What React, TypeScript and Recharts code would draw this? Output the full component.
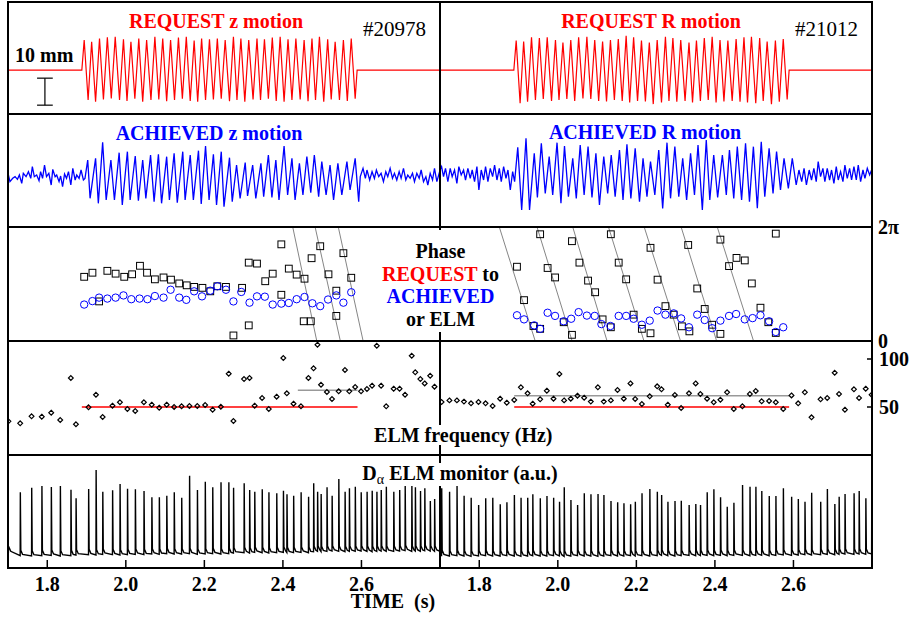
import React from 'react';
import { ComposedChart, Line, Scatter, XAxis, YAxis, ReferenceLine } from 'recharts';

const FONT = "'Liberation Serif', 'Times New Roman', Times, serif";

// ---- time axis ----
const T_DOMAIN: [number, number] = [1.7, 2.8];
const TIME_TICKS = [1.8, 2.0, 2.2, 2.4, 2.6];

// ---- row 1: requested motion (mm) ----
const REQ_ON = 1.888;
const REQ_OFF = 2.589;
const reqTimes = [
  1.894, 1.904, 1.913, 1.923, 1.933, 1.943, 1.953, 1.963, 1.973, 1.984, 1.994, 2.003, 2.013, 2.023,
  2.033, 2.043, 2.053, 2.064, 2.074, 2.084, 2.094, 2.104, 2.114, 2.124, 2.134, 2.144, 2.154, 2.164,
  2.174, 2.183, 2.193, 2.203, 2.213, 2.223, 2.233, 2.243, 2.253, 2.264, 2.274, 2.283, 2.293, 2.303,
  2.313, 2.324, 2.334, 2.343, 2.353, 2.363, 2.373, 2.383, 2.393, 2.403, 2.413, 2.423, 2.433, 2.444,
  2.454, 2.464, 2.474, 2.483, 2.493, 2.504, 2.514, 2.523, 2.533, 2.544, 2.554, 2.564, 2.574, 2.584,
];
const reqZ = [
  11.1, -11.1, 10.5, -11.7, 11.7, -10.9, 12.1, -10.5, 12.3, -11.1, 11.4, -11.4, 10.5, -10.6, 11.7, -11.7,
  11.1, -11.1, 12.3, -10.9, 11.7, -11.5, 11.1, -11.1, 12.0, -10.6, 12.3, -11.4, 10.9, -11.7, 11.7, -11.1,
  11.4, -10.9, 11.7, -10.6, 11.1, -11.5, 12.3, -11.1, 11.7, -11.7, 11.1, -10.9, 11.7, -11.1, 11.4, -10.6,
  12.0, -11.4, 12.3, -11.7, 11.4, -11.1, 11.7, -10.9, 11.1, -11.5, 11.7, -11.1, 12.3, -11.7, 11.4, -10.9,
  10.5, -11.1, 11.1, -11.4, 11.7, -10.6,
];
const reqR = [
  10.9, -12.3, 10.6, -11.7, 12.1, -11.1, 11.9, -10.7, 12.1, -11.4, 11.1, -11.1, 10.2, -10.7, 11.1, -11.4,
  12.1, -10.5, 12.3, -10.7, 11.1, -11.4, 10.6, -11.6, 11.1, -11.1, 11.5, -11.4, 12.7, -12.0, 12.1, -11.4,
  10.9, -11.6, 10.2, -12.6, 11.1, -12.0, 12.3, -11.4, 11.9, -11.7, 11.1, -11.4, 10.2, -12.0, 10.9, -11.4,
  11.9, -11.1, 12.3, -12.0, 11.1, -11.6, 10.9, -11.4, 11.5, -11.7, 12.1, -12.0, 12.3, -12.3, 11.9, -11.4,
  10.6, -12.6, 10.9, -11.7, 11.5, -10.9,
];
const SCALE_BAR = { t: 1.794, from: -3, to: -13, cap: 0.02 };

// ---- row 2: achieved motion (a.u.) [time, value] ----
const achievedZ: number[][] = [
  [1.701, 5], [1.705, -15], [1.712, -5], [1.718, 0], [1.724, -8], [1.729, 5], [1.735, -20], [1.739, 10],
  [1.746, 0], [1.752, 15], [1.758, -5], [1.762, 30], [1.767, 0], [1.773, 5], [1.779, -12], [1.783, 15],
  [1.788, -5], [1.793, 35], [1.798, 0], [1.804, 10], [1.81, -25], [1.814, 22], [1.82, 0], [1.824, 5],
  [1.83, -15], [1.834, 2], [1.839, -30], [1.844, 8], [1.849, -5], [1.854, 15], [1.86, -25], [1.865, 25],
  [1.871, -10], [1.875, 5], [1.881, -5], [1.886, 20], [1.892, -10], [1.896, -5],
  [1.903, 50], [1.909, -65], [1.923, 55], [1.93, -80], [1.941, 103], [1.95, -70], [1.962, 50], [1.971, -70],
  [1.983, 72], [1.991, -85], [2.004, 75], [2.011, -70], [2.024, 62], [2.032, -72], [2.043, 50], [2.051, -65],
  [2.063, 65], [2.072, -75], [2.083, 67], [2.091, -80], [2.104, 60], [2.111, -70], [2.123, 70], [2.131, -78],
  [2.145, 75], [2.151, -70], [2.164, 65], [2.172, -70], [2.185, 78], [2.192, -82], [2.203, 92], [2.212, -70],
  [2.223, 67], [2.231, -85], [2.243, 75], [2.25, -90], [2.264, 57], [2.271, -75], [2.282, 35], [2.291, -65],
  [2.304, 42], [2.31, -58], [2.323, 35], [2.331, -65], [2.344, 40], [2.351, -60], [2.363, 65], [2.372, -62],
  [2.382, 50], [2.39, -70], [2.403, 92], [2.412, -55], [2.423, 55], [2.431, -70], [2.442, 40], [2.451, -55],
  [2.461, 60], [2.471, -48], [2.48, 65], [2.491, -60], [2.499, 45], [2.51, -55], [2.52, 35], [2.529, -70],
  [2.54, 40], [2.55, -55], [2.563, 45], [2.571, -40], [2.584, 55], [2.593, -75],
  [2.597, 0], [2.604, 25], [2.61, -5], [2.614, 20], [2.621, -10], [2.627, 15], [2.633, -5], [2.638, 20],
  [2.644, 0], [2.65, 10], [2.656, -15], [2.662, 15], [2.667, 0], [2.673, 25], [2.679, -5], [2.684, 10],
  [2.69, -10], [2.696, 15], [2.701, -5], [2.707, 25], [2.713, -10], [2.718, 5], [2.724, -5], [2.73, 10],
  [2.735, -15], [2.741, 10], [2.747, -5], [2.752, 20], [2.758, -15], [2.764, 0], [2.769, -25], [2.775, 10],
  [2.781, -10], [2.786, 25], [2.792, -15], [2.799, 15],
];
const achievedR: number[][] = [
  [1.7, 10], [1.704, 20], [1.709, -10], [1.714, 15], [1.72, -25], [1.726, 15], [1.731, -10], [1.737, 10],
  [1.743, -30], [1.748, 20], [1.754, -5], [1.76, 10], [1.765, -20], [1.771, 15], [1.777, -15], [1.782, 10],
  [1.788, -25], [1.794, 20], [1.799, -50], [1.805, 10], [1.811, -20], [1.816, 20], [1.822, -25], [1.828, 15],
  [1.834, -10], [1.839, 25], [1.845, -20], [1.851, 15], [1.856, -25], [1.862, 20], [1.868, -15], [1.873, 10],
  [1.879, -50], [1.885, 5], [1.89, -25],
  [1.898, 78], [1.908, -110], [1.919, 105], [1.928, -110], [1.94, 60], [1.948, -72], [1.958, 90], [1.968, -60],
  [1.978, 50], [1.987, -65], [1.998, 92], [2.008, -90], [2.017, 82], [2.027, -70], [2.038, 45], [2.047, -75],
  [2.057, 85], [2.067, -65], [2.077, 80], [2.087, -72], [2.097, 60], [2.106, -95], [2.117, 50], [2.127, -60],
  [2.136, 55], [2.146, -70], [2.157, 70], [2.166, -80], [2.176, 87], [2.186, -75], [2.197, 75], [2.208, -85],
  [2.217, 45], [2.227, -70], [2.236, 35], [2.247, -65], [2.257, 70], [2.267, -105], [2.278, 92], [2.287, -75],
  [2.298, 80], [2.308, -70], [2.318, 45], [2.328, -80], [2.338, 60], [2.348, -65], [2.357, 85], [2.368, -110],
  [2.378, 100], [2.387, -80], [2.397, 55], [2.407, -72], [2.419, 55], [2.429, -65], [2.437, 70], [2.448, -75],
  [2.457, 80], [2.468, -80], [2.478, 90], [2.488, -85], [2.498, 80], [2.508, -105], [2.518, 95], [2.527, -70],
  [2.538, 75], [2.548, -60], [2.557, 65], [2.567, -50], [2.576, 45], [2.587, -45], [2.597, 45], [2.607, -35],
  [2.614, 10], [2.621, -25], [2.627, 15], [2.633, -35], [2.64, 10], [2.646, -20], [2.652, 15], [2.658, -25],
  [2.663, 35], [2.669, -10], [2.675, 15], [2.68, -25], [2.686, 15], [2.692, -20], [2.697, 10], [2.703, -30],
  [2.709, 20], [2.714, -20], [2.72, 5], [2.726, -25], [2.731, 25], [2.737, -15], [2.743, 15], [2.748, -20],
  [2.754, 20], [2.76, -20], [2.765, 25], [2.771, -25], [2.777, 10], [2.782, -15], [2.788, 15], [2.794, -5],
  [2.799, 10],
];

// ---- row 3: phase (degrees, 0..360 = 0..2pi) [time, phase] ----
const phaseElmL: number[][] = [
  [1.894, 202], [1.915, 215], [1.932, 124], [1.953, 221], [1.974, 212], [1.996, 202], [2.016, 210], [2.036, 237],
  [2.054, 215], [2.074, 194], [2.096, 200], [2.115, 193], [2.136, 181], [2.155, 175], [2.174, 170], [2.195, 167],
  [2.215, 156], [2.233, 172], [2.255, 170], [2.274, 16], [2.296, 167], [2.313, 247], [2.313, 48], [2.334, 244],
  [2.355, 188], [2.374, 212], [2.396, 305], [2.396, 145], [2.415, 228], [2.435, 209], [2.455, 196], [2.453, 61],
  [2.473, 261], [2.471, 61], [2.495, 299], [2.516, 210], [2.536, 158], [2.536, 78], [2.554, 277], [2.574, 199],
];
const phaseAchL: number[][] = [
  [1.894, 114], [1.915, 125], [1.932, 136], [1.953, 133], [1.974, 136], [1.994, 143], [2.014, 131], [2.035, 133],
  [2.055, 131], [2.074, 141], [2.096, 136], [2.114, 161], [2.136, 136], [2.154, 129], [2.174, 156], [2.194, 140],
  [2.215, 158], [2.233, 172], [2.255, 161], [2.274, 124], [2.294, 154], [2.315, 120], [2.334, 140], [2.354, 139],
  [2.374, 114], [2.396, 117], [2.415, 119], [2.435, 131], [2.455, 138], [2.475, 118], [2.495, 109], [2.515, 130],
  [2.536, 143], [2.554, 120], [2.574, 153],
];
const phaseElmR: number[][] = [
  [1.896, 234], [1.914, 128], [1.938, 46], [1.955, 337], [1.955, 37], [1.974, 230], [1.993, 200], [2.015, 58],
  [2.036, 315], [2.036, 18], [2.055, 247], [2.077, 190], [2.095, 153], [2.114, 67], [2.135, 337], [2.135, 42],
  [2.155, 247], [2.174, 194], [2.193, 82], [2.214, 37], [2.236, 294], [2.236, 23], [2.254, 193], [2.274, 109],
  [2.295, 82], [2.316, 45], [2.332, 303], [2.335, 29], [2.355, 165], [2.374, 100], [2.393, 50], [2.414, 320],
  [2.414, 21], [2.436, 236], [2.455, 262], [2.476, 254], [2.494, 181], [2.516, 104], [2.536, 58], [2.555, 339],
  [2.555, 24],
];
const phaseAchR: number[][] = [
  [1.896, 80], [1.914, 67], [1.94, 48], [1.955, 37], [1.974, 88], [1.993, 78], [2.015, 61], [2.034, 69],
  [2.053, 90], [2.074, 79], [2.094, 78], [2.111, 52], [2.134, 46], [2.155, 78], [2.174, 78], [2.193, 69],
  [2.214, 50], [2.234, 63], [2.254, 95], [2.274, 82], [2.295, 86], [2.314, 70], [2.334, 42], [2.355, 82],
  [2.374, 65], [2.393, 39], [2.414, 63], [2.436, 78], [2.454, 84], [2.476, 67], [2.496, 71], [2.516, 80],
  [2.538, 61], [2.555, 27], [2.574, 42],
];
// ELM phase drift lines: [time at 2pi, time at 0]
const driftL: number[][] = [[2.425, 2.486], [2.482, 2.546], [2.541, 2.604]];
const driftR: number[][] = [
  [1.851, 1.942], [1.947, 2.036], [2.038, 2.125], [2.129, 2.219], [2.22, 2.312], [2.314, 2.404], [2.406, 2.498],
];

// ---- row 4 / row 5: ELM events ----
const elmTimesL = [
  1.701, 1.731, 1.76, 1.786, 1.81, 1.833, 1.86, 1.873, 1.905, 1.924, 1.941, 1.966, 1.985, 2.004, 2.024, 2.046,
  2.066, 2.085, 2.104, 2.123, 2.142, 2.162, 2.182, 2.202, 2.221, 2.242, 2.262, 2.274, 2.301, 2.315, 2.328, 2.347,
  2.364, 2.384, 2.401, 2.41, 2.427, 2.446, 2.465, 2.478, 2.488, 2.497, 2.512, 2.525, 2.542, 2.558, 2.569, 2.584,
  2.599, 2.614, 2.627, 2.639, 2.65, 2.663, 2.682, 2.697, 2.711, 2.728, 2.737, 2.75, 2.761, 2.775, 2.786,
];
const elmFreqL = [
  35.1, 33.0, 40.3, 39.9, 44.1, 36.5, 80.2, 32.0, 49.7, 62.8, 39.6, 51.4, 54.9, 47.9, 45.8, 54.9,
  52.4, 49.3, 52.4, 50.0, 50.7, 51.0, 51.0, 52.1, 47.2, 50.3, 84.7, 35.4, 79.1, 80.2, 51.4, 59.4,
  47.9, 60.8, 101.0, 64.2, 53.5, 50.7, 80.2, 90.3, 114.9, 73.2, 65.6, 58.3, 66.3, 88.5, 66.3, 70.8,
  66.3, 68.7, 72.2, 113.8, 72.2, 50.7, 69.1, 69.1, 62.8, 103.4, 86.1, 79.1, 74.6, 82.6, 71.2,
];
const daPeakL = [
  0.6, 2.27, 2.41, 2.46, 2.43, 2.46, 2.35, 2.09, 2.37, 2.94, 2.29, 2.33, 2.52, 2.38, 2.36, 2.31,
  2.12, 2.12, 2.17, 2.27, 2.11, 2.77, 2.34, 2.59, 2.42, 2.57, 2.57, 2.41, 2.54, 2.34, 2.29, 2.36,
  2.27, 2.24, 2.32, 2.21, 2.17, 2.27, 2.14, 2.54, 2.29, 2.22, 2.42, 2.17, 2.67, 2.29, 2.39, 2.44,
  2.27, 2.29, 2.32, 2.29, 2.34, 2.44, 2.29, 2.34, 2.49, 2.47, 2.42, 2.31, 2.39, 2.01, 2.07,
];
const daBaseL = [
  0.46, 0.37, 0.36, 0.37, 0.38, 0.36, 0.37, 0.39, 0.4, 0.39, 0.41, 0.4, 0.39, 0.4, 0.41, 0.4,
  0.42, 0.41, 0.43, 0.42, 0.42, 0.43, 0.41, 0.42, 0.43, 0.42, 0.43, 0.45, 0.46, 0.45, 0.47, 0.46,
  0.45, 0.46, 0.47, 0.46, 0.46, 0.47, 0.46, 0.49, 0.5, 0.49, 0.5, 0.51, 0.5, 0.49, 0.5, 0.5,
  0.51, 0.5, 0.49, 0.5, 0.51, 0.5, 0.5, 0.51, 0.52, 0.5, 0.51, 0.5, 0.52, 0.51, 0.5,
];
const elmTimesR = [
  1.704, 1.724, 1.743, 1.761, 1.779, 1.798, 1.816, 1.834, 1.853, 1.87, 1.889, 1.906, 1.923, 1.936, 1.955, 1.972,
  1.989, 2.004, 2.016, 2.033, 2.05, 2.067, 2.084, 2.102, 2.117, 2.135, 2.152, 2.168, 2.185, 2.197, 2.214, 2.234,
  2.253, 2.264, 2.28, 2.298, 2.314, 2.334, 2.351, 2.363, 2.38, 2.397, 2.414, 2.431, 2.448, 2.47, 2.489, 2.504,
  2.519, 2.538, 2.555, 2.574, 2.595, 2.612, 2.629, 2.646, 2.669, 2.686, 2.705, 2.716, 2.731, 2.754, 2.767, 2.784,
  2.799,
];
const elmFreqR = [
  55.2, 56.9, 56.9, 55.6, 53.8, 55.2, 53.8, 51.0, 58.7, 54.5, 57.3, 70.5, 64.2, 53.5, 58.0, 67.0,
  58.7, 84.4, 56.9, 58.7, 61.8, 59.7, 55.6, 70.5, 55.6, 56.9, 67.7, 58.7, 74.6, 58.3, 53.1, 61.1,
  71.5, 68.4, 52.4, 62.5, 49.0, 64.2, 74.6, 63.5, 58.7, 54.9, 57.6, 65.3, 47.9, 50.7, 63.5, 66.7,
  55.9, 56.2, 54.9, 47.9, 62.1, 53.8, 65.3, 39.2, 58.0, 59.4, 85.7, 63.5, 47.2, 68.4, 59.4, 69.1,
  62.8,
];
const daPeakR = [
  2.39, 2.29, 2.46, 2.17, 2.11, 1.89, 2.09, 2.11, 1.91, 1.97, 2.19, 2.11, 2.11, 2.21, 2.09, 2.16,
  2.11, 1.99, 2.42, 2.04, 1.89, 2.24, 2.21, 2.22, 2.19, 2.01, 1.97, 1.94, 1.91, 1.99, 2.24, 2.37,
  2.29, 2.19, 1.99, 2.01, 2.02, 1.89, 1.92, 1.89, 2.27, 2.36, 2.12, 1.84, 1.96, 2.49, 2.44, 2.44,
  2.31, 2.16, 2.16, 2.39, 2.14, 2.07, 1.99, 2.26, 1.99, 2.37, 1.92, 2.14, 2.22, 2.24, 2.31, 2.09,
  2.21,
];
const daBaseR = [
  0.37, 0.36, 0.37, 0.36, 0.35, 0.36, 0.37, 0.36, 0.36, 0.37, 0.36, 0.35, 0.36, 0.37, 0.36, 0.36,
  0.37, 0.36, 0.35, 0.36, 0.37, 0.36, 0.36, 0.35, 0.36, 0.37, 0.36, 0.36, 0.37, 0.36, 0.37, 0.36,
  0.37, 0.38, 0.37, 0.36, 0.37, 0.38, 0.37, 0.37, 0.38, 0.37, 0.38, 0.37, 0.38, 0.38, 0.37, 0.38,
  0.38, 0.37, 0.38, 0.39, 0.38, 0.39, 0.4, 0.39, 0.4, 0.41, 0.4, 0.41, 0.42, 0.41, 0.42, 0.41,
  0.42,
];
// requested pacing (red) and mean observed (grey) frequency [t0, t1, Hz]
const pacingL = [1.888, 2.59, 50];
const meanL = [2.438, 2.59, 67.4];
const pacingR = [1.889, 2.589, 50];
const meanR = [1.889, 2.589, 61.8];

// ---- layout ----
const PAD = 14;
const PANEL_W = 432;
const X_LEFT = 8;
const X_MID = 440;
const ROWS = [
  { top: 2, h: 111, domain: [-15.9, 25.2] },
  { top: 114, h: 113, domain: [-151, 188] },
  { top: 227, h: 113.5, domain: [0, 360] },
  { top: 341, h: 114, domain: [0, 118.75] },
  { top: 455, h: 113, domain: [0, 3.39] },
];
const ACH_R_DOMAIN: [number, number] = [-161, 178];

const RED = '#ff0000';
const BLUE = '#0000ff';
const tickFont = { fill: '#000', fontSize: 20, fontWeight: 700, fontFamily: FONT };

// ---- builders ----
const pairs = (arr: number[][]) => arr.map(([t, v]) => ({ t, v }));

const reqSeries = (vals: number[]) => [
  { t: T_DOMAIN[0], v: 0 },
  { t: REQ_ON, v: 0 },
  ...reqTimes.map((t, i) => ({ t, v: vals[i] })),
  { t: REQ_OFF, v: 0 },
  { t: T_DOMAIN[1], v: 0 },
];

const daTrace = (times: number[], peaks: number[], bases: number[]) => {
  const out = [{ t: T_DOMAIN[0], v: bases[0] }];
  times.forEach((t, i) => {
    const b = bases[i];
    out.push({ t, v: b }, { t: t + 0.0004, v: peaks[i] }, { t: t + 0.0016, v: b + 0.16 }, { t: t + 0.006, v: b + 0.04 });
  });
  out.push({ t: T_DOMAIN[1], v: bases[bases.length - 1] });
  return out;
};

const freqPts = (times: number[], f: number[]) => times.map((t, i) => ({ t, v: f[i] }));
const hSeg = ([t0, t1, v]: number[]) => [{ t: t0, v }, { t: t1, v }];
const drift = ([a, b]: number[]) => [{ t: a, v: 360 }, { t: b, v: 0 }];

// ---- marker shapes ----
const Square = (p: any) => (
  <rect x={p.cx - 3.4} y={p.cy - 3.4} width={6.8} height={6.8} fill="none" stroke="#000" strokeWidth={1} />
);
const Ring = (p: any) => <circle cx={p.cx} cy={p.cy} r={3.7} fill="none" stroke={BLUE} strokeWidth={1} />;
const Diamond = (p: any) => (
  <path
    d={`M${p.cx},${p.cy - 2.4}L${p.cx + 2.4},${p.cy}L${p.cx},${p.cy + 2.4}L${p.cx - 2.4},${p.cy}Z`}
    fill="none"
    stroke="#000"
    strokeWidth={1.2}
  />
);

type Axis = 'none' | 'phase' | 'freq' | 'freqTicks';

function Panel({
  x, row, axis = 'none', bottom = false, domain, children,
}: { x: number; row: number; axis?: Axis; bottom?: boolean; domain?: [number, number]; children: React.ReactNode }) {
  const r = ROWS[row];
  const yDom = (domain || r.domain) as [number, number];
  const rightW = axis === 'phase' || axis === 'freq' ? 40 : 0;
  const bottomH = bottom ? 44 : 0;
  return (
    <div style={{ position: 'absolute', left: x, top: r.top - PAD }}>
      <ComposedChart
        width={PANEL_W + rightW}
        height={r.h + 2 * PAD + bottomH}
        margin={{ top: PAD, right: 0, bottom: PAD, left: 0 }}
      >
        <XAxis
          type="number"
          dataKey="t"
          domain={T_DOMAIN}
          allowDataOverflow
          hide={!bottom}
          height={bottomH}
          ticks={TIME_TICKS}
          interval={0}
          tickFormatter={(v: number) => v.toFixed(1)}
          tickSize={-8}
          tickMargin={17}
          axisLine={false}
          tickLine={{ stroke: '#000', strokeWidth: 1.5 }}
          tick={tickFont}
        />
        <YAxis
          type="number"
          dataKey="v"
          domain={yDom}
          allowDataOverflow
          hide={axis === 'none'}
          orientation="right"
          width={rightW}
          ticks={axis === 'phase' ? [0, 360] : [50, 100]}
          interval={0}
          tickFormatter={(v: number) => (axis === 'phase' ? (v === 0 ? '0' : '2π') : String(v))}
          tickSize={axis === 'phase' ? 5 : -5}
          tickMargin={axis === 'phase' ? 1 : 12}
          axisLine={false}
          tickLine={axis === 'phase' ? false : { stroke: '#000', strokeWidth: 1.5 }}
          tick={axis === 'freqTicks' ? false : tickFont}
        />
        {children}
      </ComposedChart>
    </div>
  );
}

function Label({
  x, base, size = 20, bold = true, color = '#000', center = true, bg = false, children,
}: { x: number; base: number; size?: number; bold?: boolean; color?: string; center?: boolean; bg?: boolean; children: React.ReactNode }) {
  return (
    <div
      style={{
        position: 'absolute',
        left: x,
        top: base - 0.8375 * size,
        transform: center ? 'translateX(-50%)' : undefined,
        fontSize: size,
        lineHeight: `${size}px`,
        fontWeight: bold ? 700 : 400,
        color,
        whiteSpace: 'pre',
        background: bg ? '#fff' : undefined,
        fontFamily: FONT,
      }}
    >
      {children}
    </div>
  );
}

const box = (left: number, top: number, width: number, height: number, bg = '#000') => (
  <div key={`${left}-${top}-${width}`} style={{ position: 'absolute', left, top, width, height, background: bg }} />
);

export default function App() {
  const hLines = [2, 113.5, 227, 340.5, 455, 568];
  return (
    <div style={{ position: 'absolute', left: 0, top: 0, width: 909, height: 618, background: '#fff', fontFamily: FONT }}>
      {/* row 1: request */}
      <Panel x={X_LEFT} row={0}>
        <Line data={reqSeries(reqZ)} dataKey="v" type="linear" stroke={RED} strokeWidth={1.2} dot={false} isAnimationActive={false} />
        <ReferenceLine segment={[{ x: SCALE_BAR.t, y: SCALE_BAR.from }, { x: SCALE_BAR.t, y: SCALE_BAR.to }]} stroke="#000" strokeWidth={1.2} ifOverflow="visible" />
        <ReferenceLine segment={[{ x: SCALE_BAR.t - SCALE_BAR.cap, y: SCALE_BAR.from }, { x: SCALE_BAR.t + SCALE_BAR.cap, y: SCALE_BAR.from }]} stroke="#000" strokeWidth={1.2} ifOverflow="visible" />
        <ReferenceLine segment={[{ x: SCALE_BAR.t - SCALE_BAR.cap, y: SCALE_BAR.to }, { x: SCALE_BAR.t + SCALE_BAR.cap, y: SCALE_BAR.to }]} stroke="#000" strokeWidth={1.2} ifOverflow="visible" />
      </Panel>
      <Panel x={X_MID} row={0}>
        <Line data={reqSeries(reqR)} dataKey="v" type="linear" stroke={RED} strokeWidth={1.2} dot={false} isAnimationActive={false} />
      </Panel>

      {/* row 2: achieved */}
      <Panel x={X_LEFT} row={1}>
        <Line data={pairs(achievedZ)} dataKey="v" type="linear" stroke={BLUE} strokeWidth={1.3} dot={false} isAnimationActive={false} />
      </Panel>
      <Panel x={X_MID} row={1} domain={ACH_R_DOMAIN}>
        <Line data={pairs(achievedR)} dataKey="v" type="linear" stroke={BLUE} strokeWidth={1.3} dot={false} isAnimationActive={false} />
      </Panel>

      {/* row 3: phase */}
      <Panel x={X_LEFT} row={2}>
        {driftL.map((d, i) => (
          <Line key={i} data={drift(d)} dataKey="v" type="linear" stroke="#666" strokeWidth={0.8} dot={false} isAnimationActive={false} />
        ))}
        <Scatter data={pairs(phaseElmL)} shape={Square} isAnimationActive={false} />
        <Scatter data={pairs(phaseAchL)} shape={Ring} isAnimationActive={false} />
      </Panel>
      <Panel x={X_MID} row={2} axis="phase">
        {driftR.map((d, i) => (
          <Line key={i} data={drift(d)} dataKey="v" type="linear" stroke="#666" strokeWidth={0.8} dot={false} isAnimationActive={false} />
        ))}
        <Scatter data={pairs(phaseElmR)} shape={Square} isAnimationActive={false} />
        <Scatter data={pairs(phaseAchR)} shape={Ring} isAnimationActive={false} />
      </Panel>

      {/* row 4: ELM frequency */}
      <Panel x={X_LEFT} row={3} axis="freqTicks">
        <Line data={hSeg(pacingL)} dataKey="v" stroke={RED} strokeWidth={1.5} dot={false} isAnimationActive={false} />
        <Line data={hSeg(meanL)} dataKey="v" stroke="#999" strokeWidth={1.5} dot={false} isAnimationActive={false} />
        <Scatter data={freqPts(elmTimesL, elmFreqL)} shape={Diamond} isAnimationActive={false} />
      </Panel>
      <Panel x={X_MID} row={3} axis="freq">
        <Line data={hSeg(pacingR)} dataKey="v" stroke={RED} strokeWidth={1.5} dot={false} isAnimationActive={false} />
        <Line data={hSeg(meanR)} dataKey="v" stroke="#999" strokeWidth={1.5} dot={false} isAnimationActive={false} />
        <Scatter data={freqPts(elmTimesR, elmFreqR)} shape={Diamond} isAnimationActive={false} />
      </Panel>

      {/* row 5: D-alpha */}
      <Panel x={X_LEFT} row={4} bottom>
        <Line data={daTrace(elmTimesL, daPeakL, daBaseL)} dataKey="v" type="linear" stroke="#000" strokeWidth={1.4} dot={false} isAnimationActive={false} />
      </Panel>
      <Panel x={X_MID} row={4} bottom>
        <Line data={daTrace(elmTimesR, daPeakR, daBaseR)} dataKey="v" type="linear" stroke="#000" strokeWidth={1.4} dot={false} isAnimationActive={false} />
      </Panel>

      {/* frames */}
      {hLines.map((y) => box(7, y - 1, 866, 2))}
      {box(7, 1, 2, 568)}
      {box(439, 1, 2, 568)}
      {box(870.5, 1, 2, 568)}
      {box(436, 229.5, 8, 102, '#fff')}

      {/* texts */}
      <Label x={216} base={27.3} color={RED}>REQUEST z motion</Label>
      <Label x={363} base={36.7} size={21} bold={false} center={false}>#20978</Label>
      <Label x={15} base={61.7} center={false}>10 mm</Label>
      <Label x={651} base={27.3} color={RED}>REQUEST R motion</Label>
      <Label x={795} base={36.7} size={21} bold={false} center={false}>#21012</Label>
      <Label x={209} base={139.3} color={BLUE}>ACHIEVED z motion</Label>
      <Label x={645} base={138.3} color={BLUE}>ACHIEVED R motion</Label>

      <Label x={440.5} base={257.7}>Phase</Label>
      <Label x={440.5} base={280.3}>
        <span style={{ color: RED }}>REQUEST</span> to
      </Label>
      <Label x={440.5} base={302.7} color={BLUE}>ACHIEVED</Label>
      <Label x={440.5} base={326}>or ELM</Label>

      <Label x={463.3} base={441.3} bg>ELM frequency (Hz)</Label>
      <Label x={460} base={480} bg>
        D<span style={{ fontSize: 14, fontWeight: 400, position: 'relative', top: 4 }}>α</span> ELM monitor (a.u.)
      </Label>
      <Label x={393} base={608}>TIME  (s)</Label>
    </div>
  );
}
